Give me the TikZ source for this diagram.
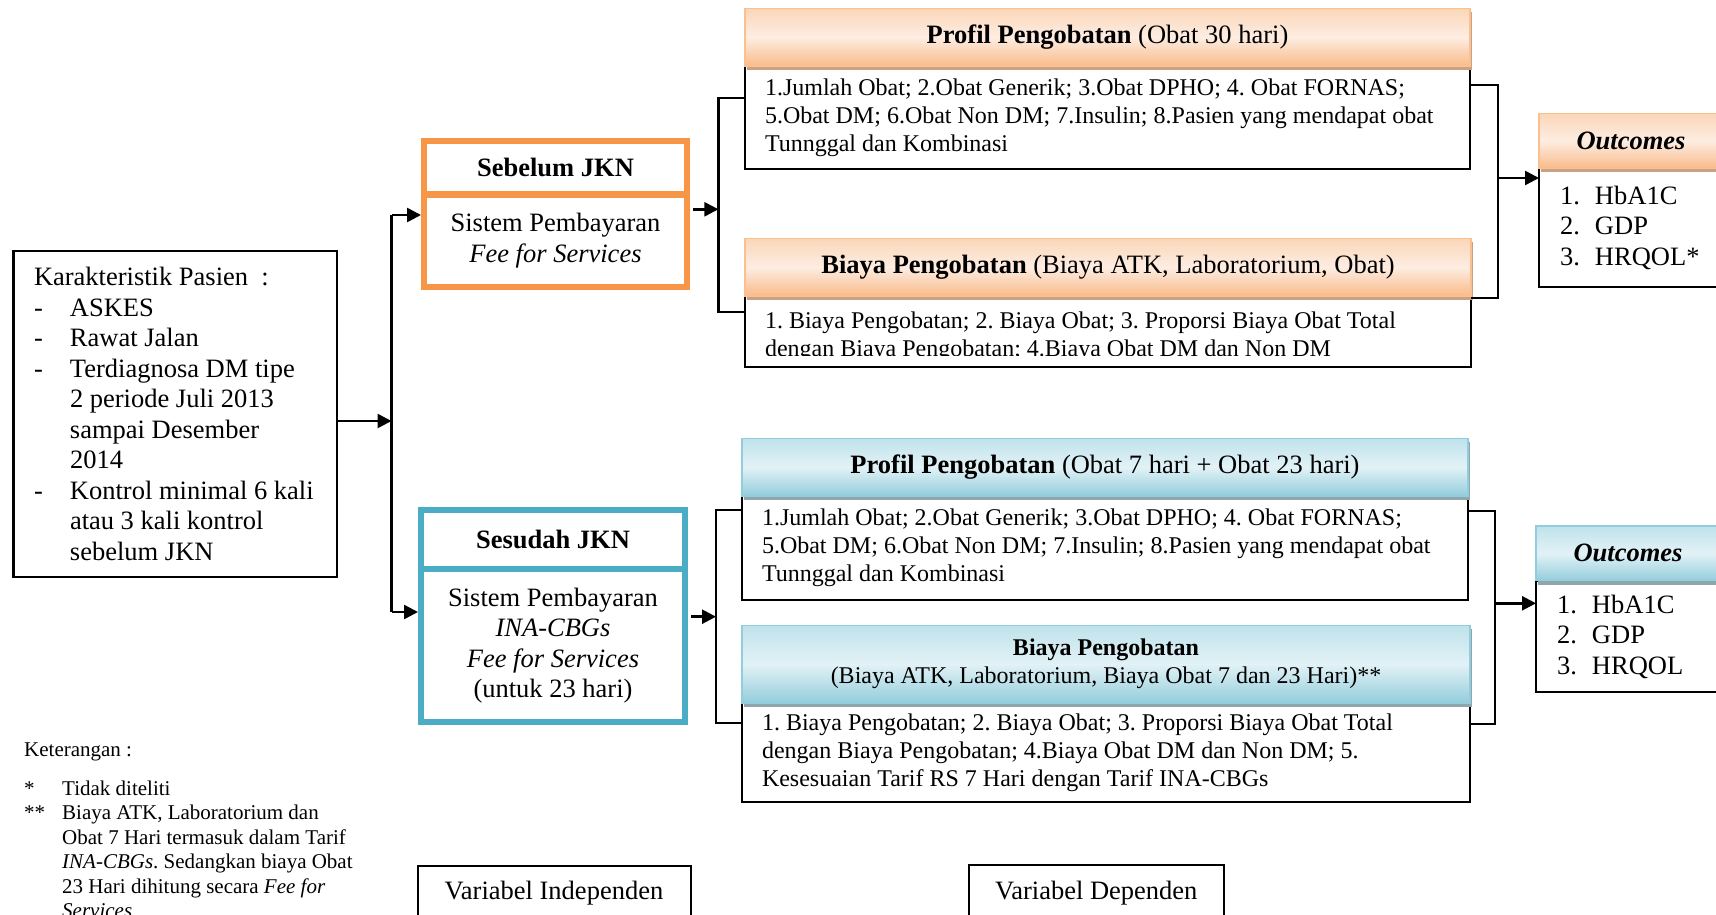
\documentclass[tikz,border=0pt]{standalone}
\usepackage{fontspec}
\setmainfont{Liberation Serif}
\usetikzlibrary{positioning}
\usetikzlibrary{arrows.meta}
\usetikzlibrary{shadows}
\frenchspacing

\definecolor{jknOrange}{HTML}{F79646}
\definecolor{jknBlue}{HTML}{4BACC6}
\definecolor{hdrOrTop}{HTML}{FBD6B8}
\definecolor{hdrOrMid}{HTML}{FDEDE2}
\definecolor{hdrOrBot}{HTML}{F9BB89}
\definecolor{hdrOrLine}{HTML}{FAC090}
\definecolor{hdrOrShadow}{HTML}{C9A184}
\definecolor{hdrBlTop}{HTML}{BFE2EB}
\definecolor{hdrBlMid}{HTML}{E2F2F6}
\definecolor{hdrBlBot}{HTML}{93CDDC}
\definecolor{hdrBlLine}{HTML}{93CDDD}
\definecolor{hdrBlShadow}{HTML}{8FA7AC}

\newcommand{\fsMain}{\fontsize{26.5}{30.5}\selectfont}
\newcommand{\fsBody}{\fontsize{24}{28}\selectfont}
\newcommand{\fsNote}{\fontsize{21}{24.5}\selectfont}

\begin{document}
\begin{tikzpicture}[x=1pt, y=-1pt,
    plainbox/.style={draw, line width=2pt, outer sep=0, inner sep=0},
    bodybox/.style={draw, line width=2pt, outer sep=0, inner xsep=20pt, inner ysep=0pt, align=flush left, font=\fsBody},
    sebFrame/.style={draw=jknOrange, line width=6.5pt, outer sep=0, inner sep=0},
    sesFrame/.style={draw=jknBlue, line width=6.5pt, outer sep=0, inner sep=0},
    hdrOr/.style={draw=hdrOrLine, line width=1.5pt, top color=hdrOrTop, bottom color=hdrOrBot, middle color=hdrOrMid,
        drop shadow={shadow xshift=2pt, shadow yshift=-4pt, fill=hdrOrShadow, opacity=1}, outer sep=0, inner sep=0},
    hdrBl/.style={draw=hdrBlLine, line width=1.5pt, top color=hdrBlTop, bottom color=hdrBlBot, middle color=hdrBlMid,
        drop shadow={shadow xshift=2pt, shadow yshift=-4pt, fill=hdrBlShadow, opacity=1}, outer sep=0, inner sep=0},
    wire/.style={line width=2.2pt},
    arr/.style={line width=2.5pt, -{Triangle[length=14pt,width=14pt]}}]

    %canvas
    \useasboundingbox (0,0) rectangle (1716,915);
    \fill[white] (0,0) rectangle (1716,915);
    \clip (0,0) rectangle (1716,915);

    %patient box
    \node[plainbox, line width=2.5pt, anchor=north west, text width=282.5pt, inner xsep=20.5pt,
        minimum height=326pt, align=flush left, font=\fsMain] (kar) at (13.5,251)
        {Karakteristik Pasien\ \ :\\
         \makebox[36pt][l]{-}ASKES\\
         \makebox[36pt][l]{-}Rawat Jalan\\
         \makebox[36pt][l]{-}Terdiagnosa DM tipe\\
         \hspace*{36pt}2 periode Juli 2013\\
         \hspace*{36pt}sampai Desember\\
         \hspace*{36pt}2014\\
         \makebox[36pt][l]{-}Kontrol minimal 6 kali\\
         \hspace*{36pt}atau 3 kali kontrol\\
         \hspace*{36pt}sebelum JKN};

    %before / after JKN
    \node[sebFrame, minimum width=263pt, minimum height=53.5pt, font=\fsMain\bfseries] (sebTitle) at (555.5,167.75) {Sebelum JKN};
    \node[sebFrame, minimum width=263pt, minimum height=92.5pt, below=0pt of sebTitle, align=center, font=\fsMain] (sebBody)
        {Sistem Pembayaran\\\textit{Fee for Services}};

    \node[sesFrame, minimum width=264pt, minimum height=58.8pt, font=\fsMain\bfseries] (sesTitle) at (553,539.4) {Sesudah JKN};
    \node[sesFrame, minimum width=264pt, minimum height=153.2pt, below=0pt of sesTitle, align=center, font=\fsMain] (sesBody)
        {Sistem Pembayaran\\\textit{INA-CBGs}\\\textit{Fee for Services}\\(untuk 23 hari)};

    %upper group (orange)
    \node[bodybox, anchor=north west, text width=685pt, minimum height=103pt] (prof1Body) at (745,66)
        {1.Jumlah Obat; 2.Obat Generik; 3.Obat DPHO; 4. Obat FORNAS;\\
         5.Obat DM; 6.Obat Non DM; 7.Insulin; 8.Pasien yang mendapat obat\\
         Tunnggal dan Kombinasi};
    \node[hdrOr, minimum width=725pt, minimum height=57.7pt, above=0pt of prof1Body, font=\fsMain] (prof1Hdr)
        {\textbf{Profil Pengobatan} (Obat 30 hari)};

    \node[bodybox, anchor=north west, text width=686pt, minimum height=70.7pt] (biaya1Body) at (745,296) {};
    \begin{scope}
        \clip (745,296) rectangle (1471,355);
        \node[bodybox, draw=none, anchor=west, text width=686pt] (biaya1Text) at (745,336.5)
            {1. Biaya Pengobatan; 2. Biaya Obat; 3. Proporsi Biaya Obat Total\\
             dengan Biaya Pengobatan; 4.Biaya Obat DM dan Non DM};
    \end{scope}
    \node[hdrOr, minimum width=726pt, minimum height=57.7pt, above=0pt of biaya1Body, font=\fsMain] (biaya1Hdr)
        {\textbf{Biaya Pengobatan} (Biaya ATK, Laboratorium, Obat)};

    \node[bodybox, font=\fsMain, anchor=north west, text width=142pt, inner xsep=21pt, minimum height=119pt] (out1Body) at (1539,168.3)
        {\makebox[35pt][l]{1.}HbA1C\\\makebox[35pt][l]{2.}GDP\\\makebox[35pt][l]{3.}HRQOL*};
    \node[hdrOr, minimum width=184pt, minimum height=55pt, above=0pt of out1Body, font=\fsMain\bfseries\itshape] (out1Hdr) {Outcomes};

    %lower group (blue)
    \node[bodybox, anchor=north west, text width=686pt, minimum height=104pt] (prof2Body) at (742,496)
        {1.Jumlah Obat; 2.Obat Generik; 3.Obat DPHO; 4. Obat FORNAS;\\
         5.Obat DM; 6.Obat Non DM; 7.Insulin; 8.Pasien yang mendapat obat\\
         Tunnggal dan Kombinasi};
    \node[hdrBl, minimum width=726pt, minimum height=57.7pt, above=0pt of prof2Body, font=\fsMain] (prof2Hdr)
        {\textbf{Profil Pengobatan} (Obat 7 hari + Obat 23 hari)};

    \node[bodybox, anchor=north west, text width=688pt, minimum height=99.3pt] (biaya2Body) at (742,703)
        {1. Biaya Pengobatan; 2. Biaya Obat; 3. Proporsi Biaya Obat Total\\
         dengan Biaya Pengobatan; 4.Biaya Obat DM dan Non DM; 5.\\
         Kesesuaian Tarif RS 7 Hari dengan Tarif INA-CBGs};
    \node[hdrBl, minimum width=728pt, minimum height=77.7pt, above=0pt of biaya2Body, align=center, font=\fsBody] (biaya2Hdr)
        {\textbf{Biaya Pengobatan}\\(Biaya ATK, Laboratorium, Biaya Obat 7 dan 23 Hari)**};

    \node[bodybox, font=\fsMain, anchor=north west, text width=142pt, inner xsep=21pt, minimum height=111.6pt] (out2Body) at (1536,580.7)
        {\makebox[35pt][l]{1.}HbA1C\\\makebox[35pt][l]{2.}GDP\\\makebox[35pt][l]{3.}HRQOL};
    \node[hdrBl, minimum width=184pt, minimum height=54.7pt, above=0pt of out2Body, font=\fsMain\bfseries\itshape] (out2Hdr) {Outcomes};

    %notes
    \node[anchor=west, inner sep=0, font=\fsNote] (ket) at (24,751.7) {Keterangan :};
    \node[anchor=west, inner sep=0, align=left, font=\fsNote] (ketList) at (24,849.5)
        {\makebox[38pt][l]{*}Tidak diteliti\\
         \makebox[38pt][l]{**}Biaya ATK, Laboratorium dan\\
         \hspace*{38pt}Obat 7 Hari termasuk dalam Tarif\\
         \hspace*{38pt}\textit{INA-CBGs}. Sedangkan biaya Obat\\
         \hspace*{38pt}23 Hari dihitung secara \textit{Fee for}\\
         \hspace*{38pt}\textit{Services}};

    %variable labels
    \node[plainbox, minimum width=273pt, minimum height=53.4pt, font=\fsMain] (varInd) at (554,892.7) {Variabel Independen};
    \node[plainbox, minimum width=254.7pt, minimum height=56pt, font=\fsMain] (varDep) at (1096.3,893) {Variabel Dependen};

    %connectors left
    \coordinate (trunk) at (391.5,421);
    \coordinate (toSeb) at (391.5,215);
    \coordinate (toSes) at (391.5,612);
    \draw[wire] (toSeb) -- (toSes);
    \draw[arr] (kar.east |- trunk) -- (trunk);
    \draw[arr, shorten >=3pt] (toSeb) -- (sebBody.west |- toSeb);
    \draw[arr, shorten >=3pt] (toSes) -- (sesBody.west |- toSes);

    %connectors upper group
    \coordinate (upLM) at (718.4,209.3);
    \coordinate (upLT) at (718.4,98.3);
    \coordinate (upLB) at (718.4,311.7);
    \coordinate (upRT) at (1497.7,85);
    \coordinate (upRM) at (1497.7,178);
    \coordinate (upRB) at (1497.7,298.3);
    \draw[arr] ([xshift=6pt]sebBody.east |- upLM) -- (upLM);
    \draw[wire] (prof1Body.west |- upLT) -- (upLT) -- (upLB) -- (biaya1Body.west |- upLB);
    \draw[wire] (prof1Body.east |- upRT) -- (upRT) -- (upRB) -- (biaya1Body.east |- upRB);
    \draw[arr] (upRM) -- (out1Body.west |- upRM);

    %connectors lower group
    \coordinate (loLM) at (716,616.7);
    \coordinate (loLT) at (716,510);
    \coordinate (loLB) at (716,723.3);
    \coordinate (loRT) at (1494.6,510.7);
    \coordinate (loRM) at (1494.6,603.3);
    \coordinate (loRB) at (1494.6,724);
    \draw[arr] ([xshift=6pt]sesBody.east |- loLM) -- (loLM);
    \draw[wire] (prof2Body.west |- loLT) -- (loLT) -- (loLB) -- (biaya2Body.west |- loLB);
    \draw[wire] (prof2Body.east |- loRT) -- (loRT) -- (loRB) -- (biaya2Body.east |- loRB);
    \draw[arr] (loRM) -- (out2Body.west |- loRM);

\end{tikzpicture}
\end{document}
